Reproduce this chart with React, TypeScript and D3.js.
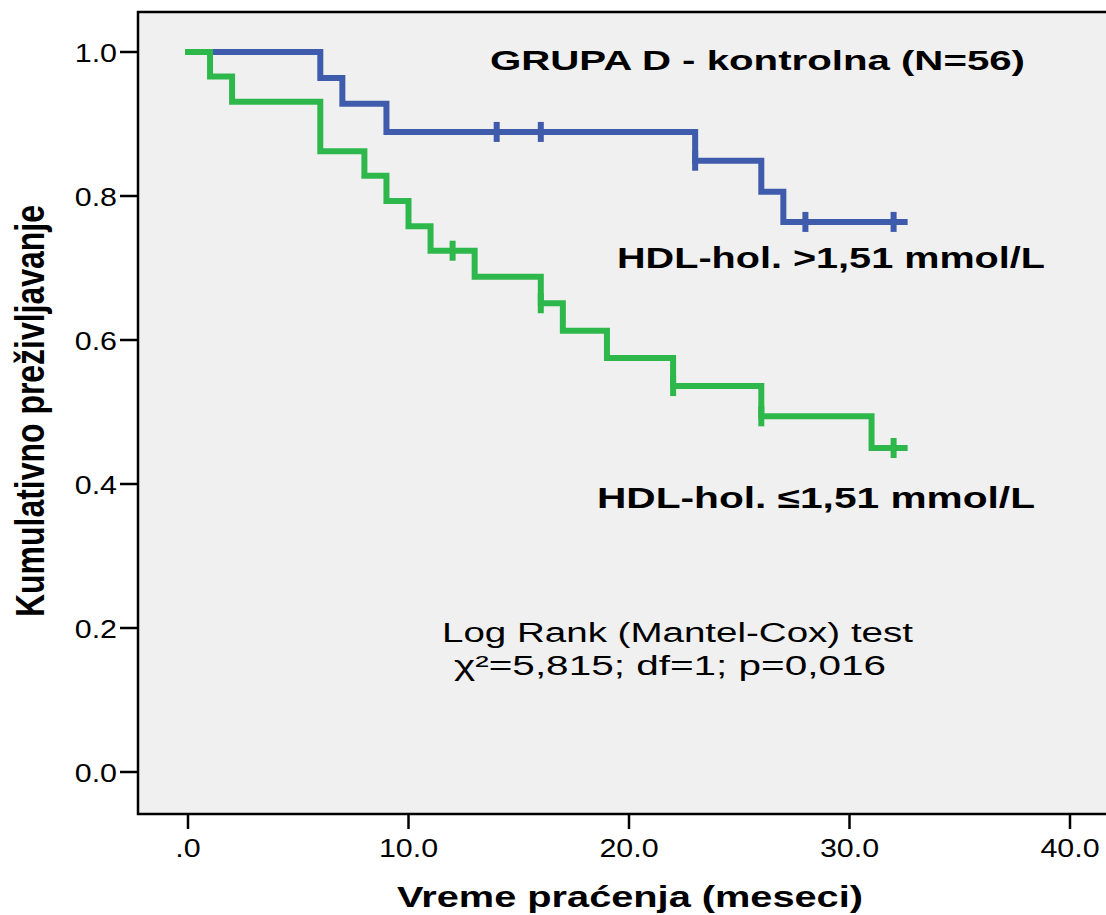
import React from "react";
import * as d3 from "d3";

// Kaplan–Meier estimates, group D (control), split by HDL cholesterol
const highTimes = [0, 6, 7, 9, 23, 26, 27];
const highSurv = [1.0, 0.964, 0.928, 0.889, 0.849, 0.806, 0.764];
const highCensored = [14, 16, 23, 28, 32];
const highEnd = 32.5;

const lowTimes = [0, 1, 2, 6, 8, 9, 10, 11, 13, 16, 17, 19, 22, 26, 31];
const lowSurv = [1.0, 0.966, 0.931, 0.862, 0.828, 0.793, 0.758, 0.724, 0.688, 0.651, 0.613, 0.575, 0.536, 0.494, 0.45];
const lowCensored = [12, 16, 22, 26, 32];
const lowEnd = 32.5;

const xTicks = [0, 10, 20, 30, 40];
const xTickLabels = [".0", "10.0", "20.0", "30.0", "40.0"];
const yTicks = [0, 0.2, 0.4, 0.6, 0.8, 1.0];
const yTickLabels = ["0.0", "0.2", "0.4", "0.6", "0.8", "1.0"];

const W = 1106;
const H = 915;
const SX = 1.17; // horizontal glyph stretch for tick labels
const FONT = "Arial, 'Liberation Sans', Helvetica, sans-serif";
const BLUE = "#3F5BAB";
const GREEN = "#2EB84B";

function levelAt(times: number[], surv: number[], t: number) {
  let v = surv[0];
  for (let i = 0; i < times.length; i++) if (times[i] <= t) v = surv[i];
  return v;
}

function Stretched(props: { x: number; y: number; anchor?: string; size: number; weight?: string; children: any }) {
  const { x, y, anchor = "middle", size, weight = "normal", children } = props;
  return (
    <g transform={`translate(${x},${y}) scale(${SX},1)`}>
      <text textAnchor={anchor} fontSize={size} fontWeight={weight} fontFamily={FONT} fill="#000">
        {children}
      </text>
    </g>
  );
}

// Text fitted to a given span, starting at x
function Fitted(props: { x: number; y: number; len: number; size: number; weight?: string; children: any }) {
  const { x, y, len, size, weight = "normal", children } = props;
  return (
    <text
      x={x}
      y={y}
      fontSize={size}
      fontWeight={weight}
      fontFamily={FONT}
      fill="#000"
      textLength={len}
      lengthAdjust="spacingAndGlyphs"
    >
      {children}
    </text>
  );
}

export default function App() {
  const x = d3.scaleLinear().domain([0, 40]).range([188, 1070]);
  const y = d3.scaleLinear().domain([0, 1]).range([772, 52]);

  const frame = { left: 138, top: 12, right: 1112, bottom: 814 };

  const line = d3
    .line<[number, number]>()
    .x((d) => x(d[0]))
    .y((d) => y(d[1]))
    .curve(d3.curveStepAfter);

  const pts = (times: number[], surv: number[], end: number): [number, number][] => {
    const p: [number, number][] = times.map((t, i) => [t, surv[i]]);
    p.push([end, surv[surv.length - 1]]);
    return p;
  };

  const series = [
    { times: highTimes, surv: highSurv, cens: highCensored, end: highEnd, color: BLUE },
    { times: lowTimes, surv: lowSurv, cens: lowCensored, end: lowEnd, color: GREEN },
  ];

  return (
    <svg width={W} height={H} style={{ position: "absolute", left: 0, top: 0, background: "#fff" }}>
      <rect
        x={frame.left}
        y={frame.top}
        width={frame.right - frame.left}
        height={frame.bottom - frame.top}
        fill="#F0F0F0"
        stroke="#000"
        strokeWidth={2.5}
      />

      {/* y axis ticks and labels */}
      {yTicks.map((v, i) => (
        <g key={"y" + i}>
          <line x1={120} x2={frame.left} y1={y(v)} y2={y(v)} stroke="#000" strokeWidth={2.5} />
          <Stretched x={117} y={y(v) + 9.5} anchor="end" size={26}>
            {yTickLabels[i]}
          </Stretched>
        </g>
      ))}

      {/* x axis ticks and labels */}
      {xTicks.map((v, i) => (
        <g key={"x" + i}>
          <line x1={x(v)} x2={x(v)} y1={frame.bottom} y2={829} stroke="#000" strokeWidth={2.5} />
          <Stretched x={x(v)} y={857} size={26}>
            {xTickLabels[i]}
          </Stretched>
        </g>
      ))}

      {/* survival curves */}
      {series.map((s, k) => (
        <g key={"s" + k}>
          <path d={line(pts(s.times, s.surv, s.end)) || ""} fill="none" stroke={s.color} strokeWidth={6} strokeLinejoin="miter" strokeLinecap="square" />
          {s.cens.map((c, j) => (
            <line
              key={j}
              x1={x(c)}
              x2={x(c)}
              y1={y(levelAt(s.times, s.surv, c)) - 10}
              y2={y(levelAt(s.times, s.surv, c)) + 10}
              stroke={s.color}
              strokeWidth={6}
            />
          ))}
        </g>
      ))}

      {/* annotations */}
      <Fitted x={490} y={70} len={535} size={28} weight="bold">
        GRUPA D - kontrolna (N=56)
      </Fitted>
      <Fitted x={617} y={268} len={428} size={29} weight="bold">
        HDL-hol. &gt;1,51 mmol/L
      </Fitted>
      <Fitted x={597} y={508} len={438} size={29} weight="bold">
        HDL-hol. ≤1,51 mmol/L
      </Fitted>
      <Fitted x={442} y={642} len={471} size={27}>
        Log Rank (Mantel-Cox) test
      </Fitted>
      <Fitted x={454} y={675} len={432} size={27}>
        χ²=5,815; df=1; p=0,016
      </Fitted>

      {/* axis titles */}
      <Fitted x={397} y={907} len={466} size={29} weight="bold">
        Vreme praćenja (meseci)
      </Fitted>
      <g transform="translate(44,411) rotate(-90)">
        <text
          x={-206}
          y={0}
          fontSize={41}
          fontWeight="bold"
          fontFamily={FONT}
          textLength={412}
          lengthAdjust="spacingAndGlyphs"
        >
          Kumulativno preživljavanje
        </text>
      </g>
    </svg>
  );
}
